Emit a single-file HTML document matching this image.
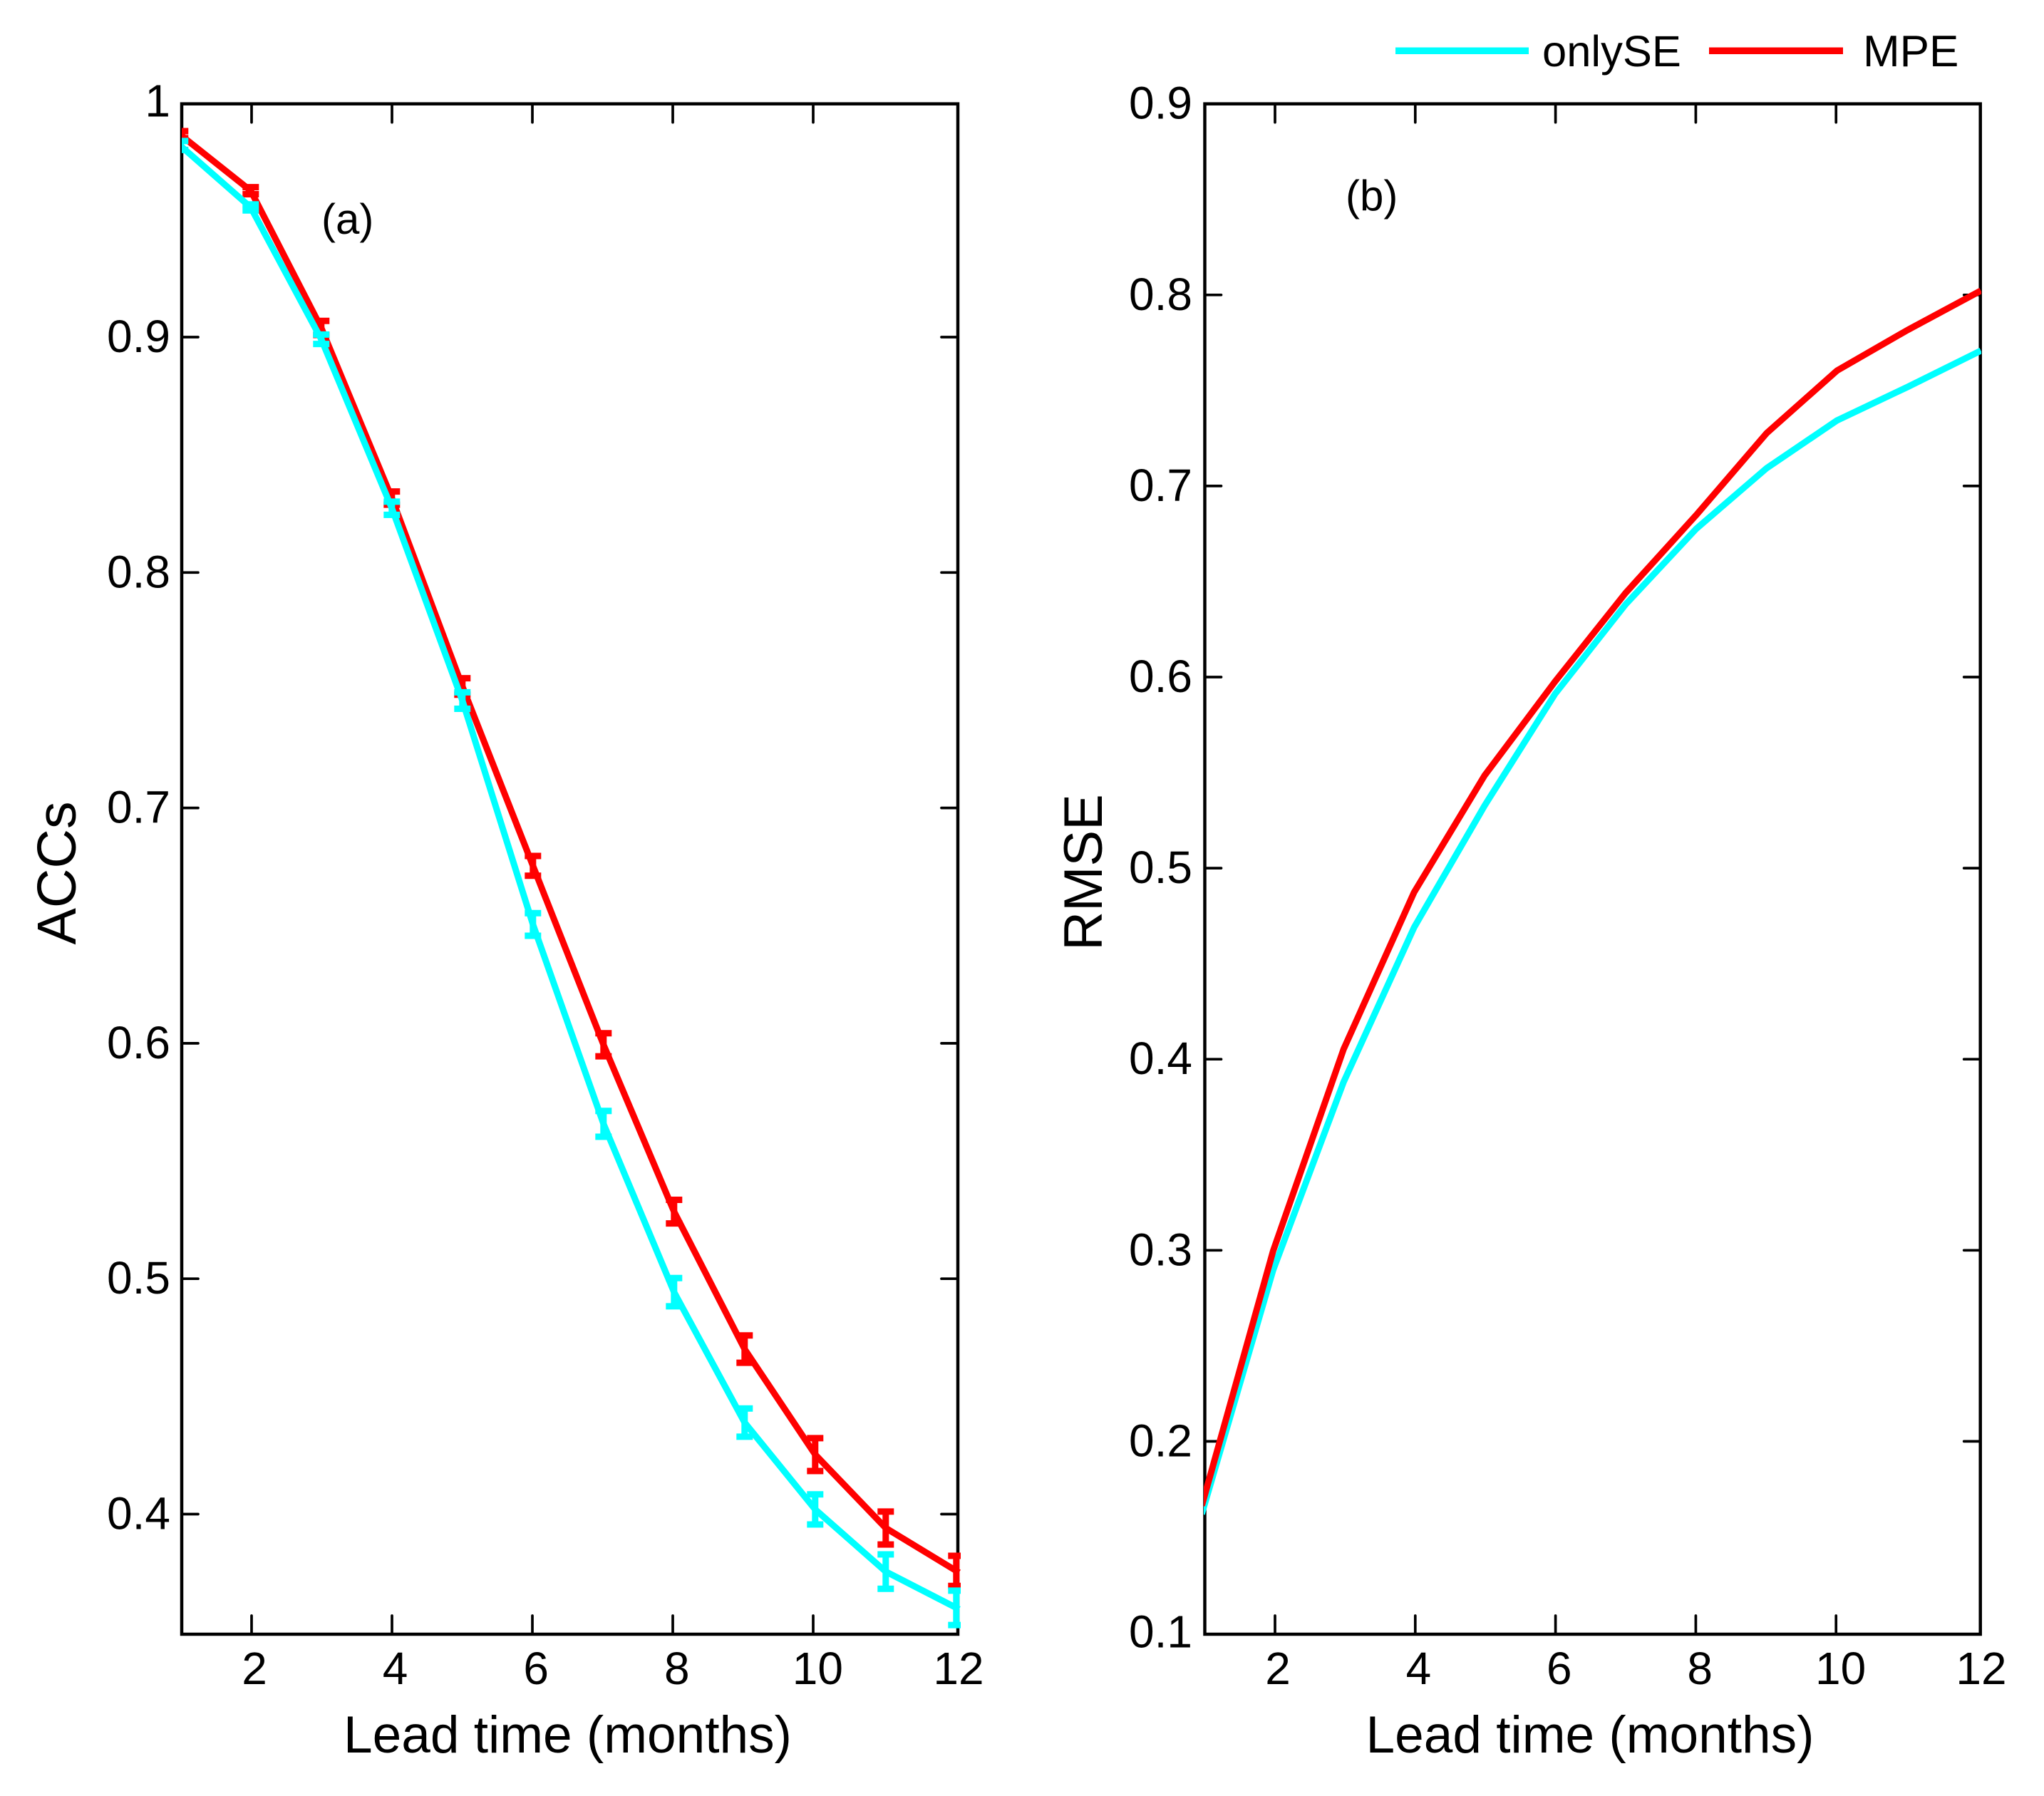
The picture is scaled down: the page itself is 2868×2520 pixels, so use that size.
<!DOCTYPE html>
<html>
<head>
<meta charset="utf-8">
<title>ACC and RMSE by lead time</title>
<style>
html,body{margin:0;padding:0;background:#fff;}
svg{display:block;}
text{font-family:"Liberation Sans",Arial,sans-serif;fill:#000;}
</style>
</head>
<body>
<svg id="chart" xmlns="http://www.w3.org/2000/svg" width="2868" height="2520" viewBox="0 0 2868 2520">
  <defs>
    <clipPath id="clip-a"><rect x="255" y="100" width="1093" height="2194"></rect></clipPath>
    <clipPath id="clip-b"><rect x="1689" y="100" width="1091" height="2194"></rect></clipPath>
  </defs>
  <g>
    <rect x="1958" y="66.5" width="187" height="9.5" fill="#00ffff"></rect>
    <text x="2164" y="93" font-size="61.5">onlySE</text>
    <rect x="2398" y="66.5" width="188" height="9.5" fill="#ff0000"></rect>
    <text x="2614" y="93" font-size="62">MPE</text>
  </g>
  <text x="451" y="328" font-size="60">(a)</text>
  <text x="1888" y="295" font-size="60">(b)</text>
  <text x="796.5" y="2459" font-size="73" text-anchor="middle">Lead time (months)</text>
  <text x="2231" y="2459" font-size="73" text-anchor="middle">Lead time (months)</text>
  <text x="0" y="0" font-size="77" text-anchor="middle" transform="translate(106 1225) rotate(-90)">ACCs</text>
  <text x="0" y="0" font-size="76" text-anchor="middle" transform="translate(1546 1224) rotate(-90)">RMSE</text>
</svg>
<script>
const leadTimes = [1,2,3,4,5,6,7,8,9,10,11,12];
const xTickValues = [2,4,6,8,10,12];
const xTickLabels = ['2','4','6','8','10','12'];
const accTickValues = [0.4,0.5,0.6,0.7,0.8,0.9,1];
const accTickLabels = ['0.4','0.5','0.6','0.7','0.8','0.9','1'];
const rmseTickValues = [0.1,0.2,0.3,0.4,0.5,0.6,0.7,0.8,0.9];
const rmseTickLabels = ['0.1','0.2','0.3','0.4','0.5','0.6','0.7','0.8','0.9'];

const accMpe = [0.986,0.9622,0.9039,0.8316,0.7516,0.6754,0.5994,0.5285,0.4701,0.4253,0.3941,0.3759];
const accOnlySe = [0.9814,0.9551,0.8991,0.8273,0.7456,0.6505,0.5658,0.4943,0.4389,0.402,0.3756,0.3602];
const accMpeError = [0.0015,0.0015,0.003,0.0028,0.0035,0.0042,0.0049,0.005,0.0058,0.007,0.007,0.0064];
const accOnlySeError = [0.0019,0.0013,0.002,0.0028,0.0035,0.0048,0.0055,0.006,0.006,0.0064,0.0073,0.0073];

const rmseMpe = [0.168,0.2997,0.4053,0.4874,0.5485,0.5977,0.644,0.6847,0.7276,0.7604,0.7816,0.8014];
const rmseOnlySe = [0.1636,0.2897,0.3881,0.469,0.5327,0.5912,0.638,0.6775,0.7093,0.7343,0.7518,0.7701];

const svg = document.getElementById('chart');
const NS = 'http://www.w3.org/2000/svg';

function make(tag, parent, props) {
  const el = document.createElementNS(NS, tag);
  for (const k in props) el.setAttribute(k, props[k]);
  parent.appendChild(el);
  return el;
}

const xA = v => 252.8 + 99 * (v - 1);
const yA = v => 473 + (0.9 - v) * 3303;
const xB = v => 1687.5 + 98.9 * (v - 1);
const yB = v => 2290.5 - (v - 0.1) * 2681;
const tickXA = v => 353 + 98.5 * (v - 2);
const tickXB = v => 1789 + 98.4 * (v - 2);
const labelXA = v => 357 + 98.8 * (v - 2);
const labelXB = v => 1793 + 98.7 * (v - 2);

function drawFrame(name, left, right, top, bottom, tickX, tickLabelX, yScale, yValues, yLabels, labelX) {
  const group = make('g', svg, {});
  
  

  xTickValues.forEach((v, i) => {
    if (v < 12) {
      const bottomTick = make('line', group, {x1: tickX(v), x2: tickX(v), y1: bottom, y2: bottom - 26, stroke: '#000', 'stroke-width': 3.7, 'stroke-linecap': 'round'});
      
      
      const topTick = make('line', group, {x1: tickX(v), x2: tickX(v), y1: top, y2: top + 26, stroke: '#000', 'stroke-width': 3.7, 'stroke-linecap': 'round'});
      
      
    }
    const label = make('text', group, {x: tickLabelX(v), y: 2363, 'font-size': 64, 'text-anchor': 'middle'});
    label.textContent = xTickLabels[i];
    
    
  });

  yValues.forEach((v, i) => {
    const y = yScale(v);
    if (y > top + 5 && y < bottom - 5) {
      const leftTick = make('line', group, {x1: left, x2: left + 23, y1: y, y2: y, stroke: '#000', 'stroke-width': 3.7, 'stroke-linecap': 'round'});
      
      
      const rightTick = make('line', group, {x1: right, x2: right - 23, y1: y, y2: y, stroke: '#000', 'stroke-width': 3.7, 'stroke-linecap': 'round'});
      
      
    }
    const label = make('text', group, {x: labelX, y: y + 21, 'font-size': 64, 'text-anchor': 'end'});
    label.textContent = yLabels[i];
    
    
  });

  const box = make('rect', group, {x: left, y: top, width: right - left, height: bottom - top, fill: 'none', stroke: '#000', 'stroke-width': 4.5});
  
  
}

function drawLine(name, clipId, values, xScale, yScale, color) {
  const pts = values.map((v, i) => xScale(leadTimes[i]).toFixed(1) + ',' + yScale(v).toFixed(1)).join(' ');
  const line = make('polyline', svg, {points: pts, fill: 'none', stroke: color, 'stroke-width': 9, 'stroke-linejoin': 'round', 'stroke-linecap': 'square', 'clip-path': 'url(#' + clipId + ')'});
  
  
}

function drawErrors(name, clipId, values, errors, xScale, yScale, color) {
  const group = make('g', svg, {stroke: color, 'stroke-width': 9, 'clip-path': 'url(#' + clipId + ')'});
  
  
  values.forEach((v, i) => {
    const x = xScale(leadTimes[i]);
    const yHigh = yScale(v + errors[i]);
    const yLow = yScale(v - errors[i]);
    const stem = make('line', group, {x1: x, x2: x, y1: yHigh, y2: yLow});
    
    
    const capHigh = make('line', group, {x1: x - 11.5, x2: x + 11.5, y1: yHigh, y2: yHigh});
    
    
    const capLow = make('line', group, {x1: x - 11.5, x2: x + 11.5, y1: yLow, y2: yLow});
    
    
  });
}

drawFrame('panel-a', 255, 1344, 145.7, 2293, tickXA, labelXA, yA, accTickValues, accTickLabels, 239);
drawFrame('panel-b', 1690.5, 2778.7, 145.7, 2293, tickXB, labelXB, yB, rmseTickValues, rmseTickLabels, 1673);

drawErrors('acc-mpe-error-bars', 'clip-a', accMpe, accMpeError, xA, yA, '#ff0000');
drawLine('acc-mpe-line', 'clip-a', accMpe, xA, yA, '#ff0000');
drawErrors('acc-onlyse-error-bars', 'clip-a', accOnlySe, accOnlySeError, xA, yA, '#00ffff');
drawLine('acc-onlyse-line', 'clip-a', accOnlySe, xA, yA, '#00ffff');

drawLine('rmse-onlyse-line', 'clip-b', rmseOnlySe, xB, yB, '#00ffff');
drawLine('rmse-mpe-line', 'clip-b', rmseMpe, xB, yB, '#ff0000');
</script>
</body>
</html>
